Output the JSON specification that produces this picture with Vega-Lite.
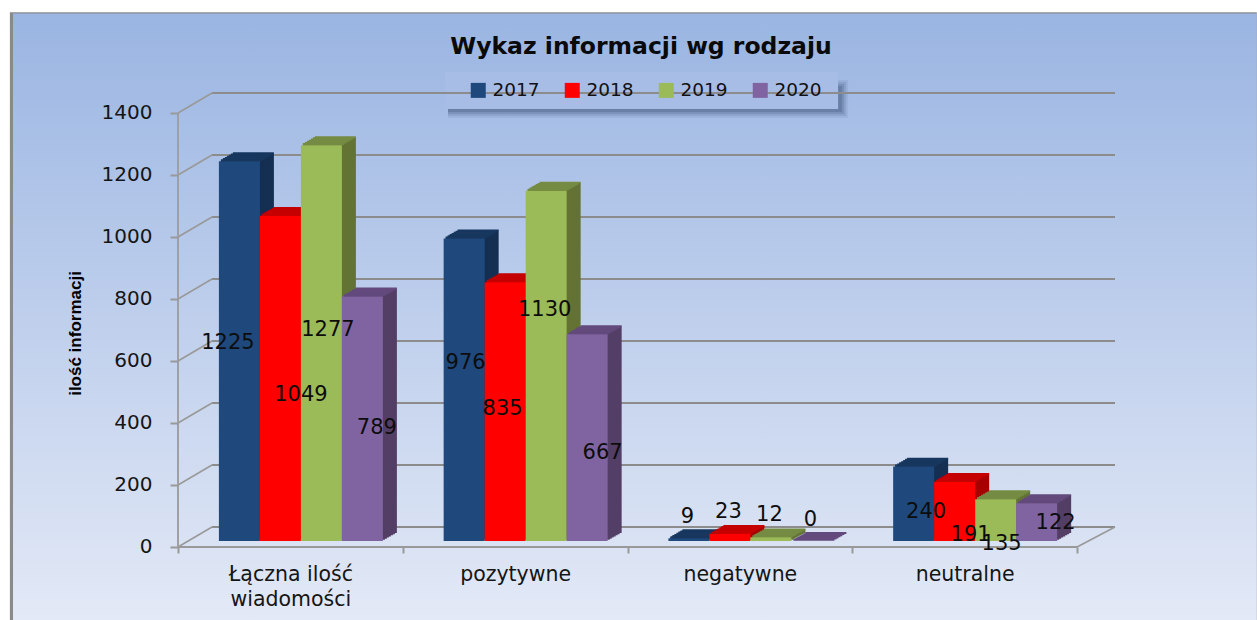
{"$schema":"https://vega.github.io/schema/vega-lite/v6.json","width":1257,"height":620,"autosize":"none","padding":0,"background":"#ffffff",
"config":{"view":{"stroke":null},"font":"DejaVu Sans"},
"title":{"text":"Wykaz informacji wg rodzaju","font":"DejaVu Sans","fontSize":23.5,"fontWeight":"bold","color":"#0a0a0a","anchor":"middle","frame":"group","offset":-58,"dx":12.5},
"datasets":{"bars":[
{"k":"Łączna ilość wiadomości","r":"2017","v":1225},{"k":"Łączna ilość wiadomości","r":"2018","v":1049},{"k":"Łączna ilość wiadomości","r":"2019","v":1277},{"k":"Łączna ilość wiadomości","r":"2020","v":789},
{"k":"pozytywne","r":"2017","v":976},{"k":"pozytywne","r":"2018","v":835},{"k":"pozytywne","r":"2019","v":1130},{"k":"pozytywne","r":"2020","v":667},
{"k":"negatywne","r":"2017","v":9},{"k":"negatywne","r":"2018","v":23},{"k":"negatywne","r":"2019","v":12},{"k":"negatywne","r":"2020","v":0},
{"k":"neutralne","r":"2017","v":240},{"k":"neutralne","r":"2018","v":191},{"k":"neutralne","r":"2019","v":135},{"k":"neutralne","r":"2020","v":122}],
"grid":[{"v":0},{"v":200},{"v":400},{"v":600},{"v":800},{"v":1000},{"v":1200},{"v":1400}],
"one":[{"o":1}]},
"data":{"name":"bars"},
"resolve":{"scale":{"x":"independent","y":"independent","xOffset":"independent","color":"independent","stroke":"independent"},"axis":{"x":"independent","y":"independent"},"legend":{"color":"independent","stroke":"independent"}},
"layer":[
{"layer":[
{"data":{"name":"one"},"mark":{"type":"rect","color":"#8a8a8a"},"encoding":{"x":{"datum":-0.748,"type":"quantitative","scale":{"domain":[0,4],"range":[178,1077]},"axis":null},"x2":{"datum":4.8},"y":{"datum":1706,"type":"quantitative","scale":{"domain":[-254.84,1745.16],"range":[620,0]},"axis":null},"y2":{"datum":-254.84}}},
{"data":{"name":"one"},"mark":{"type":"rect","color":{"gradient":"linear","x1":0,"y1":0,"x2":0,"y2":1,"stops":[{"offset":0,"color":"#9AB5E2"},{"offset":1,"color":"#E3E9F6"}]}},"encoding":{"x":{"datum":-0.734,"type":"quantitative","scale":{"domain":[0,4],"range":[178,1077]},"axis":null},"x2":{"datum":4.8},"y":{"datum":1702,"type":"quantitative","scale":{"domain":[-254.84,1745.16],"range":[620,0]},"axis":null},"y2":{"datum":-254.84}}},
{"data":{"name":"one"},"mark":{"type":"rect","color":"#24395e","opacity":0.08,"xOffset":3,"x2Offset":10,"yOffset":8,"y2Offset":9},"encoding":{"x":{"datum":1.188,"type":"quantitative","scale":{"domain":[0,4],"range":[178,1077]},"axis":null},"x2":{"datum":2.937},"y":{"datum":1512.9,"type":"quantitative","scale":{"domain":[-254.84,1745.16],"range":[620,0]},"axis":null},"y2":{"datum":1393.5}}},
{"data":{"name":"one"},"mark":{"type":"rect","color":"#24395e","opacity":0.12,"xOffset":3,"x2Offset":8,"yOffset":10,"y2Offset":7},"encoding":{"x":{"datum":1.188,"type":"quantitative","scale":{"domain":[0,4],"range":[178,1077]},"axis":null},"x2":{"datum":2.937},"y":{"datum":1512.9,"type":"quantitative","scale":{"domain":[-254.84,1745.16],"range":[620,0]},"axis":null},"y2":{"datum":1393.5}}},
{"data":{"name":"one"},"mark":{"type":"rect","color":"#24395e","opacity":0.16,"xOffset":3,"x2Offset":6,"yOffset":12,"y2Offset":5},"encoding":{"x":{"datum":1.188,"type":"quantitative","scale":{"domain":[0,4],"range":[178,1077]},"axis":null},"x2":{"datum":2.937},"y":{"datum":1512.9,"type":"quantitative","scale":{"domain":[-254.84,1745.16],"range":[620,0]},"axis":null},"y2":{"datum":1393.5}}},
{"data":{"name":"one"},"mark":{"type":"rect","color":"#24395e","opacity":0.2,"xOffset":3,"x2Offset":4,"yOffset":14,"y2Offset":3},"encoding":{"x":{"datum":1.188,"type":"quantitative","scale":{"domain":[0,4],"range":[178,1077]},"axis":null},"x2":{"datum":2.937},"y":{"datum":1512.9,"type":"quantitative","scale":{"domain":[-254.84,1745.16],"range":[620,0]},"axis":null},"y2":{"datum":1393.5}}},
{"data":{"name":"one"},"mark":{"type":"rect","color":"#A8BDE6"},"encoding":{"x":{"datum":1.188,"type":"quantitative","scale":{"domain":[0,4],"range":[178,1077]},"axis":null},"x2":{"datum":2.937},"y":{"datum":1512.9,"type":"quantitative","scale":{"domain":[-254.84,1745.16],"range":[620,0]},"axis":null},"y2":{"datum":1393.5}}},
{"data":{"name":"grid"},"mark":{"type":"rule","color":"#8c8c8c","strokeWidth":2,"xOffset":34,"x2Offset":38,"yOffset":-14},"encoding":{"x":{"datum":0,"type":"quantitative","scale":{"domain":[0,4],"range":[178,1077]},"axis":null},"x2":{"datum":4},"y":{"field":"v","type":"quantitative","scale":{"domain":[-254.84,1745.16],"range":[620,0]},"axis":null}}},
{"data":{"name":"grid"},"mark":{"type":"rule","color":"#999999","strokeWidth":1.6,"x2Offset":34,"yOffset":6,"y2Offset":-14},"encoding":{"x":{"datum":0,"type":"quantitative","scale":{"domain":[0,4],"range":[178,1077]},"axis":null},"x2":{"datum":0},"y":{"field":"v","type":"quantitative","scale":{"domain":[-254.84,1745.16],"range":[620,0]},"axis":null},"y2":{"field":"v"}}},
{"data":{"name":"one"},"mark":{"type":"rule","color":"#999999","strokeWidth":1.6,"x2Offset":38,"yOffset":6,"y2Offset":-14},"encoding":{"x":{"datum":4,"type":"quantitative","scale":{"domain":[0,4],"range":[178,1077]},"axis":null},"x2":{"datum":4},"y":{"datum":0,"type":"quantitative","scale":{"domain":[-254.84,1745.16],"range":[620,0]},"axis":null},"y2":{"datum":0}}},
{"data":{"name":"one"},"mark":{"type":"rule","color":"#999999","strokeWidth":2,"yOffset":6},"encoding":{"x":{"datum":0,"type":"quantitative","scale":{"domain":[0,4],"range":[178,1077]},"axis":null},"x2":{"datum":4},"y":{"datum":0,"type":"quantitative","scale":{"domain":[-254.84,1745.16],"range":[620,0]},"axis":null}}},
{"data":{"name":"one"},"mark":{"type":"rule","color":"#a0a0a0","strokeWidth":2,"yOffset":6,"y2Offset":6},"encoding":{"x":{"datum":0,"type":"quantitative","scale":{"domain":[0,4],"range":[178,1077]},"axis":null},"y":{"datum":0,"type":"quantitative","scale":{"domain":[-254.84,1745.16],"range":[620,0]},"axis":null},"y2":{"datum":1400}}}
]},
{"mark":{"type":"bar"},"encoding":{"x":{"field":"k","type":"nominal","sort":null,"scale":{"domain":["Łączna ilość wiadomości","pozytywne","negatywne","neutralne"],"range":[202.5,1101.5],"padding":0},"axis":null},"xOffset":{"field":"r","type":"nominal","scale":{"domain":["2017","2018","2019","2020"],"range":[30.4,194.4],"padding":0}},"y":{"field":"v","type":"quantitative","stack":null,"scale":{"domain":[-254.84,1745.16],"range":[612,-8]},"axis":null},"color":{"field":"r","type":"nominal","scale":{"domain":["2017","2018","2019","2020"],"range":["#152F52","#A60000","#637334","#533E66"]},"legend":null}}},
{"mark":{"type":"bar"},"encoding":{"x":{"field":"k","type":"nominal","sort":null,"scale":{"domain":["Łączna ilość wiadomości","pozytywne","negatywne","neutralne"],"range":[200.5,1099.5],"padding":0},"axis":null},"xOffset":{"field":"r","type":"nominal","scale":{"domain":["2017","2018","2019","2020"],"range":[30.4,194.4],"padding":0}},"y":{"field":"v","type":"quantitative","stack":null,"scale":{"domain":[-254.84,1745.16],"range":[613.14,-6.86]},"axis":null},"color":{"field":"r","type":"nominal","scale":{"domain":["2017","2018","2019","2020"],"range":["#152F52","#A60000","#637334","#533E66"]},"legend":null}}},
{"mark":{"type":"bar"},"encoding":{"x":{"field":"k","type":"nominal","sort":null,"scale":{"domain":["Łączna ilość wiadomości","pozytywne","negatywne","neutralne"],"range":[198.5,1097.5],"padding":0},"axis":null},"xOffset":{"field":"r","type":"nominal","scale":{"domain":["2017","2018","2019","2020"],"range":[30.4,194.4],"padding":0}},"y":{"field":"v","type":"quantitative","stack":null,"scale":{"domain":[-254.84,1745.16],"range":[614.29,-5.71]},"axis":null},"color":{"field":"r","type":"nominal","scale":{"domain":["2017","2018","2019","2020"],"range":["#152F52","#A60000","#637334","#533E66"]},"legend":null}}},
{"mark":{"type":"bar"},"encoding":{"x":{"field":"k","type":"nominal","sort":null,"scale":{"domain":["Łączna ilość wiadomości","pozytywne","negatywne","neutralne"],"range":[196.5,1095.5],"padding":0},"axis":null},"xOffset":{"field":"r","type":"nominal","scale":{"domain":["2017","2018","2019","2020"],"range":[30.4,194.4],"padding":0}},"y":{"field":"v","type":"quantitative","stack":null,"scale":{"domain":[-254.84,1745.16],"range":[615.43,-4.57]},"axis":null},"color":{"field":"r","type":"nominal","scale":{"domain":["2017","2018","2019","2020"],"range":["#152F52","#A60000","#637334","#533E66"]},"legend":null}}},
{"mark":{"type":"bar"},"encoding":{"x":{"field":"k","type":"nominal","sort":null,"scale":{"domain":["Łączna ilość wiadomości","pozytywne","negatywne","neutralne"],"range":[194.5,1093.5],"padding":0},"axis":null},"xOffset":{"field":"r","type":"nominal","scale":{"domain":["2017","2018","2019","2020"],"range":[30.4,194.4],"padding":0}},"y":{"field":"v","type":"quantitative","stack":null,"scale":{"domain":[-254.84,1745.16],"range":[616.57,-3.43]},"axis":null},"color":{"field":"r","type":"nominal","scale":{"domain":["2017","2018","2019","2020"],"range":["#152F52","#A60000","#637334","#533E66"]},"legend":null}}},
{"mark":{"type":"bar"},"encoding":{"x":{"field":"k","type":"nominal","sort":null,"scale":{"domain":["Łączna ilość wiadomości","pozytywne","negatywne","neutralne"],"range":[192.5,1091.5],"padding":0},"axis":null},"xOffset":{"field":"r","type":"nominal","scale":{"domain":["2017","2018","2019","2020"],"range":[30.4,194.4],"padding":0}},"y":{"field":"v","type":"quantitative","stack":null,"scale":{"domain":[-254.84,1745.16],"range":[617.71,-2.29]},"axis":null},"color":{"field":"r","type":"nominal","scale":{"domain":["2017","2018","2019","2020"],"range":["#152F52","#A60000","#637334","#533E66"]},"legend":null}}},
{"mark":{"type":"bar"},"encoding":{"x":{"field":"k","type":"nominal","sort":null,"scale":{"domain":["Łączna ilość wiadomości","pozytywne","negatywne","neutralne"],"range":[190.5,1089.5],"padding":0},"axis":null},"xOffset":{"field":"r","type":"nominal","scale":{"domain":["2017","2018","2019","2020"],"range":[30.4,194.4],"padding":0}},"y":{"field":"v","type":"quantitative","stack":null,"scale":{"domain":[-254.84,1745.16],"range":[618.86,-1.14]},"axis":null},"color":{"field":"r","type":"nominal","scale":{"domain":["2017","2018","2019","2020"],"range":["#152F52","#A60000","#637334","#533E66"]},"legend":null}}},
{"mark":{"type":"bar","strokeWidth":1.8},"encoding":{"x":{"field":"k","type":"nominal","sort":null,"scale":{"domain":["Łączna ilość wiadomości","pozytywne","negatywne","neutralne"],"range":[202.5,1101.5],"padding":0},"axis":null},"xOffset":{"field":"r","type":"nominal","scale":{"domain":["2017","2018","2019","2020"],"range":[30.4,194.4],"padding":0}},"y":{"field":"v","type":"quantitative","stack":null,"scale":{"domain":[-254.84,1745.16],"range":[612,-8]},"axis":null},"y2":{"field":"v"},"stroke":{"field":"r","type":"nominal","scale":{"domain":["2017","2018","2019","2020"],"range":["#17375F","#C40000","#758B43","#634A7D"]},"legend":null}}},
{"mark":{"type":"bar","strokeWidth":1.8},"encoding":{"x":{"field":"k","type":"nominal","sort":null,"scale":{"domain":["Łączna ilość wiadomości","pozytywne","negatywne","neutralne"],"range":[200.5,1099.5],"padding":0},"axis":null},"xOffset":{"field":"r","type":"nominal","scale":{"domain":["2017","2018","2019","2020"],"range":[30.4,194.4],"padding":0}},"y":{"field":"v","type":"quantitative","stack":null,"scale":{"domain":[-254.84,1745.16],"range":[613.14,-6.86]},"axis":null},"y2":{"field":"v"},"stroke":{"field":"r","type":"nominal","scale":{"domain":["2017","2018","2019","2020"],"range":["#17375F","#C40000","#758B43","#634A7D"]},"legend":null}}},
{"mark":{"type":"bar","strokeWidth":1.8},"encoding":{"x":{"field":"k","type":"nominal","sort":null,"scale":{"domain":["Łączna ilość wiadomości","pozytywne","negatywne","neutralne"],"range":[198.5,1097.5],"padding":0},"axis":null},"xOffset":{"field":"r","type":"nominal","scale":{"domain":["2017","2018","2019","2020"],"range":[30.4,194.4],"padding":0}},"y":{"field":"v","type":"quantitative","stack":null,"scale":{"domain":[-254.84,1745.16],"range":[614.29,-5.71]},"axis":null},"y2":{"field":"v"},"stroke":{"field":"r","type":"nominal","scale":{"domain":["2017","2018","2019","2020"],"range":["#17375F","#C40000","#758B43","#634A7D"]},"legend":null}}},
{"mark":{"type":"bar","strokeWidth":1.8},"encoding":{"x":{"field":"k","type":"nominal","sort":null,"scale":{"domain":["Łączna ilość wiadomości","pozytywne","negatywne","neutralne"],"range":[196.5,1095.5],"padding":0},"axis":null},"xOffset":{"field":"r","type":"nominal","scale":{"domain":["2017","2018","2019","2020"],"range":[30.4,194.4],"padding":0}},"y":{"field":"v","type":"quantitative","stack":null,"scale":{"domain":[-254.84,1745.16],"range":[615.43,-4.57]},"axis":null},"y2":{"field":"v"},"stroke":{"field":"r","type":"nominal","scale":{"domain":["2017","2018","2019","2020"],"range":["#17375F","#C40000","#758B43","#634A7D"]},"legend":null}}},
{"mark":{"type":"bar","strokeWidth":1.8},"encoding":{"x":{"field":"k","type":"nominal","sort":null,"scale":{"domain":["Łączna ilość wiadomości","pozytywne","negatywne","neutralne"],"range":[194.5,1093.5],"padding":0},"axis":null},"xOffset":{"field":"r","type":"nominal","scale":{"domain":["2017","2018","2019","2020"],"range":[30.4,194.4],"padding":0}},"y":{"field":"v","type":"quantitative","stack":null,"scale":{"domain":[-254.84,1745.16],"range":[616.57,-3.43]},"axis":null},"y2":{"field":"v"},"stroke":{"field":"r","type":"nominal","scale":{"domain":["2017","2018","2019","2020"],"range":["#17375F","#C40000","#758B43","#634A7D"]},"legend":null}}},
{"mark":{"type":"bar","strokeWidth":1.8},"encoding":{"x":{"field":"k","type":"nominal","sort":null,"scale":{"domain":["Łączna ilość wiadomości","pozytywne","negatywne","neutralne"],"range":[192.5,1091.5],"padding":0},"axis":null},"xOffset":{"field":"r","type":"nominal","scale":{"domain":["2017","2018","2019","2020"],"range":[30.4,194.4],"padding":0}},"y":{"field":"v","type":"quantitative","stack":null,"scale":{"domain":[-254.84,1745.16],"range":[617.71,-2.29]},"axis":null},"y2":{"field":"v"},"stroke":{"field":"r","type":"nominal","scale":{"domain":["2017","2018","2019","2020"],"range":["#17375F","#C40000","#758B43","#634A7D"]},"legend":null}}},
{"mark":{"type":"bar","strokeWidth":1.8},"encoding":{"x":{"field":"k","type":"nominal","sort":null,"scale":{"domain":["Łączna ilość wiadomości","pozytywne","negatywne","neutralne"],"range":[190.5,1089.5],"padding":0},"axis":null},"xOffset":{"field":"r","type":"nominal","scale":{"domain":["2017","2018","2019","2020"],"range":[30.4,194.4],"padding":0}},"y":{"field":"v","type":"quantitative","stack":null,"scale":{"domain":[-254.84,1745.16],"range":[618.86,-1.14]},"axis":null},"y2":{"field":"v"},"stroke":{"field":"r","type":"nominal","scale":{"domain":["2017","2018","2019","2020"],"range":["#17375F","#C40000","#758B43","#634A7D"]},"legend":null}}},
{"mark":{"type":"bar"},"encoding":{"x":{"field":"k","type":"nominal","sort":null,"scale":{"domain":["Łączna ilość wiadomości","pozytywne","negatywne","neutralne"],"range":[188.5,1087.5],"padding":0},"axis":null},
"xOffset":{"field":"r","type":"nominal","scale":{"domain":["2017","2018","2019","2020"],"range":[30.4,194.4],"padding":0}},
"y":{"field":"v","type":"quantitative","stack":null,"scale":{"domain":[-254.84,1745.16],"range":[620,0]},
"axis":{"zindex":1,"orient":"left","offset":-178,"values":[0,200,400,600,800,1000,1200,1400],"format":"d","title":"ilość informacji","titleFont":"Liberation Sans","titleFontSize":17,"titleFontWeight":"bold","titleColor":"#000000","titleAngle":270,"titleAlign":"center","titleBaseline":"middle","titleX":-103,"titleY":333,"domain":false,"grid":false,"ticks":true,"tickSize":8,"tickWidth":2,"tickColor":"#999999","tickOffset":6,"labelPadding":18,"labelFont":"DejaVu Sans","labelFontSize":20,"labelColor":"#151515","labelOverlap":false,"labelBaseline":"middle"}},
"color":{"field":"r","type":"nominal","scale":{"domain":["2017","2018","2019","2020"],"range":["#1F497D","#FF0000","#9BBB59","#8064A2"]},
"legend":{"orient":"none","legendX":469,"legendY":81,"direction":"horizontal","columns":4,"title":null,"padding":0,"symbolType":"square","symbolSize":225,"symbolStrokeWidth":0,"labelFont":"DejaVu Sans","labelFontSize":18.5,"labelColor":"#111111","labelOffset":5,"columnPadding":23}}}},
{"encoding":{"x":{"field":"k","type":"nominal","sort":null,"scale":{"domain":["Łączna ilość wiadomości","pozytywne","negatywne","neutralne"],"range":[188.5,1087.5],"padding":0},"axis":null},"xOffset":{"field":"r","type":"nominal","scale":{"domain":["2017","2018","2019","2020"],"range":[50.9,173.9],"padding":0}},"y":{"field":"v","type":"quantitative","stack":null,"scale":{"domain":[-254.84,1745.16],"range":[620,0]},"axis":null},"text":{"field":"v","type":"quantitative","format":"d"}},
"layer":[
{"transform":[{"filter":"datum.v==1225"}],"mark":{"type":"text","font":"DejaVu Sans","fontSize":21,"color":"#0d0d0d","baseline":"middle","dx":-11.5,"dy":181.75}},
{"transform":[{"filter":"datum.v==1049"}],"mark":{"type":"text","font":"DejaVu Sans","fontSize":21,"color":"#0d0d0d","baseline":"middle","dx":20.5,"dy":179}},
{"transform":[{"filter":"datum.v==1277"}],"mark":{"type":"text","font":"DejaVu Sans","fontSize":21,"color":"#0d0d0d","baseline":"middle","dx":6.5,"dy":185}},
{"transform":[{"filter":"datum.v==789"}],"mark":{"type":"text","font":"DejaVu Sans","fontSize":21,"color":"#0d0d0d","baseline":"middle","dx":14.5,"dy":131.6}},
{"transform":[{"filter":"datum.v==976"}],"mark":{"type":"text","font":"DejaVu Sans","fontSize":21,"color":"#0d0d0d","baseline":"middle","dx":1.5,"dy":124.6}},
{"transform":[{"filter":"datum.v==835"}],"mark":{"type":"text","font":"DejaVu Sans","fontSize":21,"color":"#0d0d0d","baseline":"middle","dx":-2.5,"dy":126.85}},
{"transform":[{"filter":"datum.v==1130"}],"mark":{"type":"text","font":"DejaVu Sans","fontSize":21,"color":"#0d0d0d","baseline":"middle","dx":-1.5,"dy":119.3}},
{"transform":[{"filter":"datum.v==667"}],"mark":{"type":"text","font":"DejaVu Sans","fontSize":21,"color":"#0d0d0d","baseline":"middle","dx":15.5,"dy":118.8}},
{"transform":[{"filter":"datum.v==9"}],"mark":{"type":"text","font":"DejaVu Sans","fontSize":21,"color":"#0d0d0d","baseline":"middle","dx":-1.5,"dy":-21}},
{"transform":[{"filter":"datum.v==23"}],"mark":{"type":"text","font":"DejaVu Sans","fontSize":21,"color":"#0d0d0d","baseline":"middle","dx":-1.5,"dy":-22}},
{"transform":[{"filter":"datum.v==12"}],"mark":{"type":"text","font":"DejaVu Sans","fontSize":21,"color":"#0d0d0d","baseline":"middle","dx":-1.5,"dy":-22}},
{"transform":[{"filter":"datum.v==0"}],"mark":{"type":"text","font":"DejaVu Sans","fontSize":21,"color":"#0d0d0d","baseline":"middle","dx":-1.5,"dy":-21}},
{"transform":[{"filter":"datum.v==240"}],"mark":{"type":"text","font":"DejaVu Sans","fontSize":21,"color":"#0d0d0d","baseline":"middle","dx":12.5,"dy":45.4}},
{"transform":[{"filter":"datum.v==191"}],"mark":{"type":"text","font":"DejaVu Sans","fontSize":21,"color":"#0d0d0d","baseline":"middle","dx":16,"dy":53}},
{"transform":[{"filter":"datum.v==135"}],"mark":{"type":"text","font":"DejaVu Sans","fontSize":21,"color":"#0d0d0d","baseline":"middle","dx":6,"dy":45}},
{"transform":[{"filter":"datum.v==122"}],"mark":{"type":"text","font":"DejaVu Sans","fontSize":21,"color":"#0d0d0d","baseline":"middle","dx":19,"dy":19.5}}
]},
{"mark":{"type":"rule","opacity":0},"encoding":{"x":{"field":"k","type":"nominal","sort":null,"scale":{"domain":["Łączna ilość wiadomości","pozytywne","negatywne","neutralne"],"range":[178,1077],"padding":0},
"axis":{"zindex":1,"orient":"bottom","offset":-73,"title":null,"domain":false,"grid":false,"ticks":true,"tickBand":"extent","tickSize":6,"tickWidth":2,"tickColor":"#999999","labelAngle":0,"labelPadding":11,"labelFont":"DejaVu Sans","labelFontSize":20.5,"labelColor":"#151515","labelLimit":0,"labelOverlap":false,"labelBaseline":"top","labelLineHeight":25,"labelExpr":"datum.label=='Łączna ilość wiadomości'?['Łączna ilość','wiadomości']:datum.label"}}}}
]}
